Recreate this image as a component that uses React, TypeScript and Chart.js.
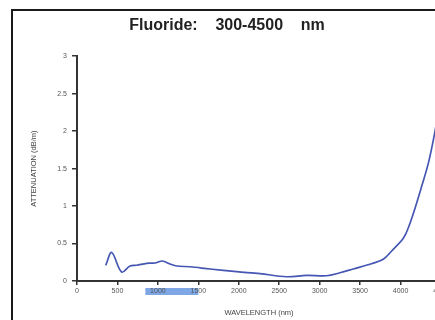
import React, { useEffect, useRef } from 'react';
import { Chart, registerables } from 'chart.js';

Chart.register(...registerables);

const TITLE = 'Fluoride:    300-4500    nm';
const X_TITLE = 'WAVELENGTH (nm)';
const Y_TITLE = 'ATTENUATION (dB/m)';

const wavelengths = [355, 429, 552, 655, 738, 861, 964, 1055, 1150, 1232, 1397, 1644, 1974, 2262, 2592, 2839, 3086, 3251, 3415, 3640, 3786, 3890, 4034, 4096, 4158, 4260, 4343, 4405, 4460];
const attenuation = [0.21, 0.38, 0.12, 0.2, 0.21, 0.236, 0.24, 0.267, 0.227, 0.2, 0.19, 0.16, 0.124, 0.098, 0.057, 0.075, 0.07, 0.11, 0.16, 0.23, 0.29, 0.4, 0.57, 0.71, 0.9, 1.26, 1.57, 1.88, 2.2];

const X_MIN = 0;
const X_MAX = 4500;
const X_STEP = 500;
const Y_MIN = 0;
const Y_MAX = 3;
const Y_STEP = 0.5;

const highlightRange = [845, 1500];

const FONT = '"Liberation Sans", Arial, Helvetica, sans-serif';

export default function App() {
  const ref = useRef<HTMLCanvasElement>(null);

  useEffect(() => {
    const highlight = {
      id: 'highlight',
      beforeDraw(chart: any) {
        const xs = chart.scales.x;
        const ctx = chart.ctx;
        const x0 = xs.getPixelForValue(highlightRange[0]);
        const x1 = xs.getPixelForValue(highlightRange[1]);
        ctx.save();
        ctx.fillStyle = 'rgba(105,150,225,0.85)';
        ctx.fillRect(x0, xs.top + 7, x1 - x0, 7);
        ctx.restore();
      },
    };

    const chart = new Chart(ref.current as HTMLCanvasElement, {
      type: 'line',
      data: {
        datasets: [
          {
            data: wavelengths.map((w, i) => ({ x: w, y: attenuation[i] })),
            borderColor: '#4657b3',
            borderWidth: 1.7,
            pointRadius: 0,
            tension: 0.35,
            fill: false,
          },
        ],
      },
      options: {
        responsive: false,
        animation: false,
        layout: { padding: { left: 13, right: 26, top: 0, bottom: 0 } },
        plugins: {
          legend: { display: false },
          tooltip: { enabled: false },
          title: {
            display: true,
            text: TITLE,
            color: '#222',
            font: { family: FONT, size: 16, weight: 'bold', lineHeight: 1.2 },
            padding: { top: 16, bottom: 21 },
          },
        },
        scales: {
          x: {
            type: 'linear',
            min: X_MIN,
            max: X_MAX,
            afterFit(s: any) {
              s.height = 39;
            },
            ticks: {
              stepSize: X_STEP,
              callback: (v: any) => String(v),
              color: '#555',
              font: { family: FONT, size: 7 },
              padding: 2,
              maxRotation: 0,
              autoSkip: false,
            },
            grid: { drawOnChartArea: false, drawTicks: true, tickLength: 4, color: '#333', lineWidth: 1.5 },
            border: { display: true, color: '#333', width: 2 },
            title: {
              display: true,
              text: X_TITLE,
              color: '#444',
              font: { family: FONT, size: 7.5 },
              padding: { top: 0, bottom: 3 },
            },
          },
          y: {
            type: 'linear',
            min: Y_MIN,
            max: Y_MAX,
            afterFit(s: any) {
              s.width = 64;
            },
            ticks: {
              stepSize: Y_STEP,
              callback: (v: any) => String(v),
              color: '#555',
              font: { family: FONT, size: 7 },
              padding: 5,
            },
            grid: { drawOnChartArea: false, drawTicks: true, tickLength: 5, color: '#333', lineWidth: 1.5 },
            border: { display: true, color: '#333', width: 2 },
            title: {
              display: true,
              text: Y_TITLE,
              color: '#444',
              font: { family: FONT, size: 7.5 },
              padding: { top: 16, bottom: 0 },
            },
          },
        },
      } as any,
      plugins: [highlight],
    });
    return () => chart.destroy();
  }, []);

  return (
    <div
      style={{
        position: 'fixed',
        left: 0,
        top: 0,
        width: 435,
        height: 320,
        overflow: 'hidden',
        background: '#fff',
      }}
    >
      <div
        style={{
          position: 'absolute',
          left: 11,
          top: 9,
          width: 700,
          height: 700,
          border: '2px solid #1a1a1a',
          boxSizing: 'border-box',
        }}
      />
      <canvas
        ref={ref}
        width={467}
        height={320}
        style={{ position: 'absolute', left: 0, top: 0, display: 'block' }}
      />
    </div>
  );
}
